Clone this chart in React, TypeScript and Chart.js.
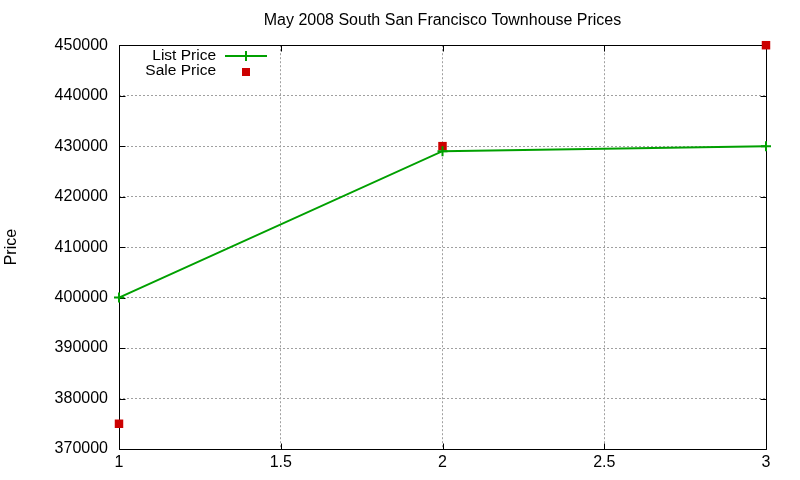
import { useEffect, useRef } from "react";
import { Chart, registerables } from "chart.js";

Chart.register(...registerables);

const TITLE = "May 2008 South San Francisco Townhouse Prices";
const Y_TITLE = "Price";
const LIST_LABEL = "List Price";
const SALE_LABEL = "Sale Price";

const xValues = [1, 2, 3];
const listPrices = [400000, 429000, 430000];
const salePrices = [375000, 430000, 450000];

const X_MIN = 1;
const X_MAX = 3;
const X_STEP = 0.5;
const Y_MIN = 370000;
const Y_MAX = 450000;
const Y_STEP = 10000;

const GREEN = "#00a000";
const RED = "#cc0000";
const FONT = "'Liberation Sans', Arial, sans-serif";

const framePlugin = {
  id: "gnuFrame",
  beforeDatasetsDraw(chart: any) {
    const { ctx, chartArea: a, scales } = chart;
    ctx.save();
    ctx.strokeStyle = "#000";
    ctx.lineWidth = 1;
    ctx.setLineDash([]);
    ctx.beginPath();
    const L = Math.round(a.left) + 0.5;
    const R = Math.round(a.right) + 0.5;
    const T = Math.round(a.top) + 0.5;
    const B = Math.round(a.bottom) + 0.5;
    ctx.rect(L, T, R - L, B - T);
    const tl = 6;
    scales.y.ticks.forEach((t: any) => {
      const y = Math.round(scales.y.getPixelForValue(t.value)) + 0.5;
      ctx.moveTo(L, y);
      ctx.lineTo(L + tl, y);
      ctx.moveTo(R, y);
      ctx.lineTo(R - tl, y);
    });
    scales.x.ticks.forEach((t: any) => {
      const x = Math.round(scales.x.getPixelForValue(t.value)) + 0.5;
      ctx.moveTo(x, B);
      ctx.lineTo(x, B - tl);
      ctx.moveTo(x, T);
      ctx.lineTo(x, T + tl);
    });
    ctx.stroke();
    ctx.restore();
  },
  afterDraw(chart: any) {
    const { ctx } = chart;
    ctx.save();
    ctx.font = `15.5px ${FONT}`;
    ctx.fillStyle = "#000";
    ctx.textAlign = "right";
    ctx.textBaseline = "middle";
    ctx.fillText(LIST_LABEL, 216, 56);
    ctx.fillText(SALE_LABEL, 216, 71);
    ctx.strokeStyle = GREEN;
    ctx.lineWidth = 2;
    ctx.beginPath();
    ctx.moveTo(225, 56);
    ctx.lineTo(267, 56);
    ctx.moveTo(246, 51);
    ctx.lineTo(246, 61);
    ctx.stroke();
    ctx.fillStyle = RED;
    ctx.fillRect(242, 68, 8, 8);
    ctx.restore();
  },
};

export default function App() {
  const ref = useRef<HTMLCanvasElement | null>(null);

  useEffect(() => {
    document.body.style.margin = "0";
    const canvas = ref.current;
    if (!canvas) return;
    const chart = new Chart(canvas, {
      type: "scatter",
      data: {
        datasets: [
          {
            label: LIST_LABEL,
            data: xValues.map((x, i) => ({ x, y: listPrices[i] })),
            showLine: true,
            borderColor: GREEN,
            backgroundColor: GREEN,
            borderWidth: 2,
            pointStyle: "cross",
            pointRadius: 5,
            pointBorderWidth: 2,
            pointBorderColor: GREEN,
            tension: 0,
            clip: false as any,
          },
          {
            label: SALE_LABEL,
            data: xValues.map((x, i) => ({ x, y: salePrices[i] })),
            showLine: false,
            borderColor: RED,
            backgroundColor: RED,
            pointStyle: "rect",
            pointRadius: 6,
            pointBorderWidth: 0,
            clip: false as any,
          },
        ],
      },
      options: {
        animation: false,
        responsive: true,
        maintainAspectRatio: false,
        layout: { padding: { left: 0, right: 34, top: 0, bottom: 0 } },
        plugins: {
          legend: { display: false },
          tooltip: { enabled: false },
          title: {
            display: true,
            fullSize: false,
            text: TITLE,
            color: "#000",
            font: { family: FONT, size: 16, weight: "normal" },
            padding: { top: 11, bottom: 15 },
          },
        },
        scales: {
          x: {
            type: "linear",
            min: X_MIN,
            max: X_MAX,
            afterFit: (s: any) => {
              s.height = 31;
            },
            ticks: {
              stepSize: X_STEP,
              color: "#000",
              font: { family: FONT, size: 16 },
              padding: 4,
              maxRotation: 0,
              callback: (v: any) => String(v),
            },
            grid: {
              color: "#a0a0a0",
              lineWidth: 1,
              drawTicks: false,
            },
            border: { display: false, dash: [2, 2] },
          },
          y: {
            type: "linear",
            min: Y_MIN,
            max: Y_MAX,
            afterFit: (s: any) => {
              s.width = 119;
            },
            ticks: {
              stepSize: Y_STEP,
              color: "#000",
              font: { family: FONT, size: 16 },
              padding: 11,
              callback: (v: any) => String(v),
            },
            grid: {
              color: "#a0a0a0",
              lineWidth: 1,
              drawTicks: false,
            },
            border: { display: false, dash: [2, 2] },
            title: {
              display: true,
              text: Y_TITLE,
              color: "#000",
              font: { family: FONT, size: 16 },
              padding: { top: 2, bottom: 0 },
            },
          },
        },
      },
      plugins: [framePlugin],
    });
    return () => chart.destroy();
  }, []);

  return (
    <div style={{ position: "absolute", left: 0, top: 0, width: 800, height: 480 }}>
      <canvas ref={ref} />
    </div>
  );
}
